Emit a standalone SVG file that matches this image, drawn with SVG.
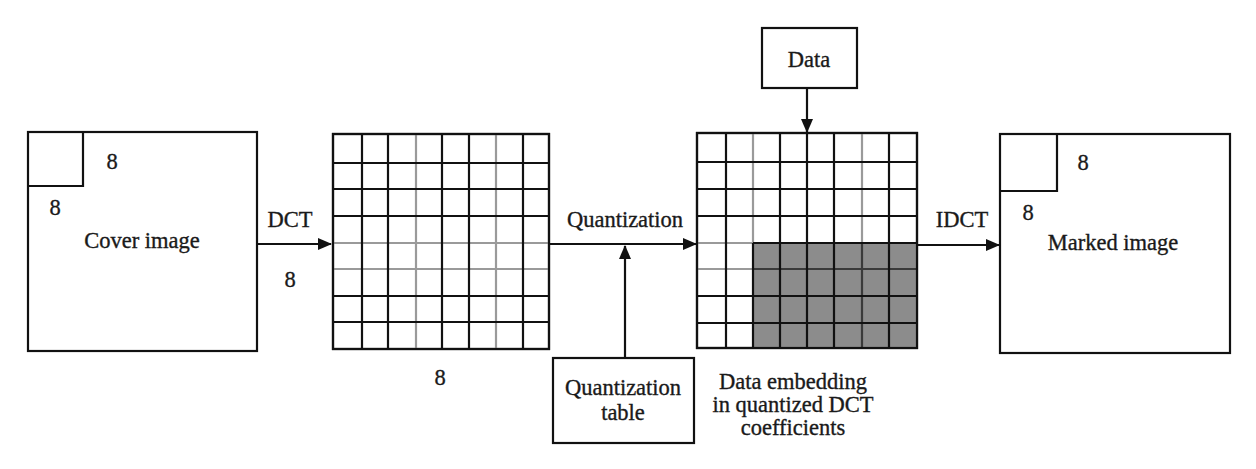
<svg xmlns="http://www.w3.org/2000/svg" width="1256" height="469" viewBox="0 0 1256 469">
<style>
.box{fill:#fff;stroke:#111;stroke-width:2.2}
.ln{stroke:#111;stroke-width:2.2;fill:none}
.gl{stroke:#9a9a9a;stroke-width:2.2;fill:none}
.dl{stroke:#3a3a3a;stroke-width:2.2;fill:none}
.t{font-family:"Liberation Serif","Times New Roman",serif;font-size:22.5px;fill:#1a1a1a;stroke:#1a1a1a;stroke-width:0.35;text-anchor:middle}
</style>
<defs>
<marker id="ah" markerUnits="userSpaceOnUse" markerWidth="14" markerHeight="14" viewBox="0 0 14 14" refX="13" refY="7" orient="auto">
<path d="M0,1 L14,7 L0,13 Z" fill="#111"/>
</marker>
</defs>
<rect width="1256" height="469" fill="#fff"/>

<g id="cover">
<rect class="box" x="28" y="132" width="229" height="219"/>
<path class="ln" d="M28,186 H83 V132"/>
<text class="t" x="112" y="169">8</text>
<text class="t" x="55" y="215">8</text>
<text class="t" x="142" y="248">Cover image</text>
</g>

<g id="dct-grid">
<rect class="box" x="333" y="134" width="216" height="215"/>
<path class="gl" d="M416,134V349M496,134V349M333,243H549M333,269H549"/>
<path class="ln" d="M362,134V349M388,134V349M442,134V349M469,134V349M523,134V349M333,163H549M333,189H549M333,216H549M333,296H549M333,322H549"/>
<rect class="ln" x="333" y="134" width="216" height="215"/>
<text class="t" x="440" y="385">8</text>
</g>

<g id="embed-grid">
<rect class="box" x="697" y="133" width="220" height="215"/>
<rect x="753" y="243" width="164" height="105" fill="#8c8c8c"/>
<path class="gl" d="M753,133V243M862,133V243M697,243H753M697,269H753"/>
<path class="dl" d="M862,243V348M753,269H917"/>
<path class="ln" d="M726,133V348M753,243V348M780,133V348M807,133V348M834,133V348M889,133V348M697,162H917M697,189H917M697,216H917M753,243H917M697,296H917M697,323H917"/>
<rect class="ln" x="697" y="133" width="220" height="215"/>
<text class="t" x="793" y="389">Data embedding</text>
<text class="t" x="793" y="412">in quantized DCT</text>
<text class="t" x="793" y="435">coefficients</text>
</g>

<g id="marked">
<rect class="box" x="1000" y="134" width="230" height="219"/>
<path class="ln" d="M1000,191 H1057 V134"/>
<text class="t" x="1083" y="170">8</text>
<text class="t" x="1028" y="220">8</text>
<text class="t" x="1113" y="250">Marked image</text>
</g>

<g id="qtable">
<rect class="box" x="553" y="358" width="141" height="85"/>
<text class="t" x="623" y="395">Quantization</text>
<text class="t" x="623" y="420">table</text>
</g>

<g id="data">
<rect class="box" x="762" y="28" width="95" height="60"/>
<text class="t" x="809" y="67">Data</text>
</g>

<g id="connectors">
<line class="ln" x1="257" y1="244" x2="331" y2="244" marker-end="url(#ah)"/>
<line class="ln" x1="549" y1="244" x2="696" y2="244" marker-end="url(#ah)"/>
<line class="ln" x1="625" y1="358" x2="625" y2="246" marker-end="url(#ah)"/>
<line class="ln" x1="807" y1="88" x2="807" y2="132" marker-end="url(#ah)"/>
<line class="ln" x1="917" y1="245" x2="999" y2="245" marker-end="url(#ah)"/>
<text class="t" x="290" y="227">DCT</text>
<text class="t" x="290" y="287">8</text>
<text class="t" x="625" y="227">Quantization</text>
<text class="t" x="962" y="227">IDCT</text>
</g>
</svg>
